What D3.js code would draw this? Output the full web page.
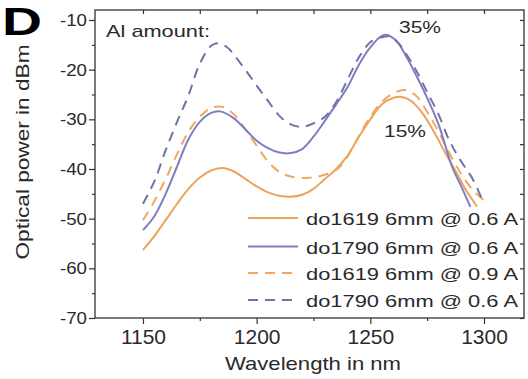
<!DOCTYPE html>
<html><head><meta charset="utf-8">
<script src="https://cdn.jsdelivr.net/npm/d3@7"></script>
<style>body{margin:0;background:#fff}text{font-family:"Liberation Sans",Arial,sans-serif;fill:#2a2a2a}</style>
</head><body><svg id="c" width="528" height="379"></svg>
<script>
const seriesNames = ["do1619 6mm @ 0.6 A","do1790 6mm @ 0.6 A","do1619 6mm @ 0.9 A","do1790 6mm @ 0.6 A"];
const seriesColors = ["#eba35e","#7e7ec2","#f0a862","#7272aa"];
const seriesDash = [null,null,"10,7","10,7"];
const wlOrangeSolid = [1150,1155,1160,1165,1170,1175,1180,1185,1190,1195,1200,1205,1210,1215,1220,1225,1230,1235,1240,1245,1250,1255,1260,1264,1268,1273,1278,1283,1288,1292,1297];
const pwOrangeSolid = [-56.3,-53.5,-50.3,-47,-44,-41.7,-40.3,-39.8,-40.5,-42,-43.5,-44.7,-45.4,-45.6,-45.2,-44,-42,-40,-37.3,-33.5,-30,-27,-25.7,-25.5,-26.3,-28.8,-32.5,-36.8,-40.8,-44.2,-47.6];
const wlPurpleSolid = [1150,1155,1160,1165,1170,1175,1180,1184,1190,1195,1200,1205,1210,1215,1220,1225,1230,1235,1240,1245,1250,1256,1261,1266,1270,1274,1280,1286,1290,1294];
const pwPurpleSolid = [-52.3,-49.5,-45,-39.5,-34,-30.5,-28.7,-28.4,-29.8,-32,-34.3,-35.8,-36.7,-36.8,-36,-33.5,-30.3,-27,-23.5,-19,-15.5,-13,-14,-17.5,-21,-24.7,-31,-39.6,-43.5,-47.6];
const wlOrangeDash = [1150,1155,1160,1165,1170,1175,1180,1185,1190,1195,1200,1205,1210,1215,1222,1228,1235,1240,1245,1250,1255,1260,1265,1270,1275,1280,1285,1290,1295,1300];
const pwOrangeDash = [-50.3,-46.5,-42,-37,-32.5,-29.5,-27.7,-27.5,-29,-32,-35.3,-38.5,-40.6,-41.5,-41.8,-41.4,-40.2,-37.5,-33.3,-29.5,-26.5,-24.8,-24.1,-25.2,-28.5,-32.5,-37,-41,-44.2,-46.3];
const wlPurpleDash = [1150,1155,1160,1165,1170,1175,1180,1183,1187,1190,1195,1200,1205,1210,1215,1220,1225,1230,1235,1240,1245,1250,1255,1258,1262,1266,1270,1275,1280,1285,1290,1295,1300];
const pwPurpleDash = [-47,-42.5,-36.2,-30.5,-25.2,-18.8,-15.2,-14.7,-15.5,-17,-20,-23.2,-26.3,-29.3,-31,-31.5,-30.8,-29.5,-26.5,-22,-17.5,-14.5,-13.5,-13.3,-14.5,-17,-20,-24.5,-29,-34.5,-38.5,-42,-47];
const xTicks = [1150,1200,1250,1300];
const xMinor = [1175,1225,1275];
const yTicks = [-10,-20,-30,-40,-50,-60,-70];
const yMinor = [-15,-25,-35,-45,-55,-65];

const svg = d3.select("#c");
const L=95,R=524,T=10,B=318;
const x = d3.scaleLinear().domain([1128.9,1317.6]).range([L,R]);
const y = d3.scaleLinear().domain([-70,-7.99]).range([B,T]);

const series = [
  {wl:wlOrangeSolid,pw:pwOrangeSolid},
  {wl:wlPurpleSolid,pw:pwPurpleSolid},
  {wl:wlOrangeDash,pw:pwOrangeDash},
  {wl:wlPurpleDash,pw:pwPurpleDash}
];
const line = d3.line().x(d=>x(d[0])).y(d=>y(d[1])).curve(d3.curveCatmullRom.alpha(0.5));
const drawOrder=[0,2,1,3];
drawOrder.forEach(i=>{
  const s=series[i];
  svg.append("path").datum(s.wl.map((w,j)=>[w,s.pw[j]]))
    .attr("d",line).attr("fill","none").attr("stroke",seriesColors[i])
    .attr("stroke-width",2).attr("stroke-dasharray",seriesDash[i]);
});

// frame
svg.append("rect").attr("x",L).attr("y",T).attr("width",R-L).attr("height",B-T)
  .attr("fill","none").attr("stroke","#333").attr("stroke-width",1.3);

const hy = d => String(d).replace("\u2212","-");
// axes
const ax = svg.append("g").attr("transform",`translate(0,${B})`)
  .call(d3.axisBottom(x).tickValues(xTicks).tickSize(6).tickFormat(d=>String(d)));
const axm = svg.append("g").attr("transform",`translate(0,${B})`)
  .call(d3.axisBottom(x).tickValues(xMinor).tickSize(3).tickFormat(""));
const axt = svg.append("g").attr("transform",`translate(0,${T})`)
  .call(d3.axisBottom(x).tickValues(xTicks.concat(xMinor)).tickSize(4).tickFormat(""));
const ay = svg.append("g").attr("transform",`translate(${L},0)`)
  .call(d3.axisLeft(y).tickValues(yTicks).tickSize(6).tickFormat(d=>String(d)));
const aym = svg.append("g").attr("transform",`translate(${L},0)`)
  .call(d3.axisLeft(y).tickValues(yMinor).tickSize(3).tickFormat(""));
const ayr = svg.append("g").attr("transform",`translate(${R},0)`)
  .call(d3.axisLeft(y).tickValues(yTicks.concat(yMinor)).tickSize(4).tickFormat(""));
[ax,axm,axt,ay,aym,ayr].forEach(g=>{
  g.select(".domain").remove();
  g.selectAll(".tick line").attr("stroke","#333").attr("stroke-width",1.2);
});
ax.selectAll(".tick text").attr("font-size",21).attr("y",11).attr("fill","#2a2a2a")
  .style("font-family","Liberation Sans, Arial, sans-serif");
ay.selectAll(".tick text").attr("font-size",16).attr("x",-8).attr("dy","0.35em").attr("fill","#2a2a2a")
  .attr("textLength",27).attr("lengthAdjust","spacingAndGlyphs")
  .style("font-family","Liberation Sans, Arial, sans-serif");

// labels
svg.append("text").attr("x",313).attr("y",370).attr("text-anchor","middle")
  .attr("font-size",19).attr("textLength",176).attr("lengthAdjust","spacingAndGlyphs")
  .text("Wavelength in nm");
svg.append("text").attr("transform","translate(29,152) rotate(-90)").attr("text-anchor","middle")
  .attr("font-size",18).attr("textLength",215).attr("lengthAdjust","spacingAndGlyphs")
  .text("Optical power in dBm");
svg.append("text").attr("x",2).attr("y",35).attr("font-size",38).attr("font-weight","bold")
  .attr("textLength",40).attr("lengthAdjust","spacingAndGlyphs").style("fill","#000").text("D");
svg.append("text").attr("x",106).attr("y",37).attr("font-size",17)
  .attr("textLength",104).attr("lengthAdjust","spacingAndGlyphs").text("Al amount:");
svg.append("text").attr("x",399).attr("y",33).attr("font-size",17)
  .attr("textLength",42).attr("lengthAdjust","spacingAndGlyphs").text("35%");
svg.append("text").attr("x",384).attr("y",137).attr("font-size",17)
  .attr("textLength",42).attr("lengthAdjust","spacingAndGlyphs").text("15%");

// legend
const legY=[218,246.5,273,300];
seriesNames.forEach((n,i)=>{
  svg.append("line").attr("x1",248).attr("x2",298).attr("y1",legY[i]).attr("y2",legY[i])
    .attr("stroke",seriesColors[i]).attr("stroke-width",2).attr("stroke-dasharray",seriesDash[i]);
  svg.append("text").attr("x",306).attr("y",legY[i]+7).attr("font-size",17)
    .attr("textLength",212).attr("lengthAdjust","spacingAndGlyphs").text(n);
});
</script></body></html>
